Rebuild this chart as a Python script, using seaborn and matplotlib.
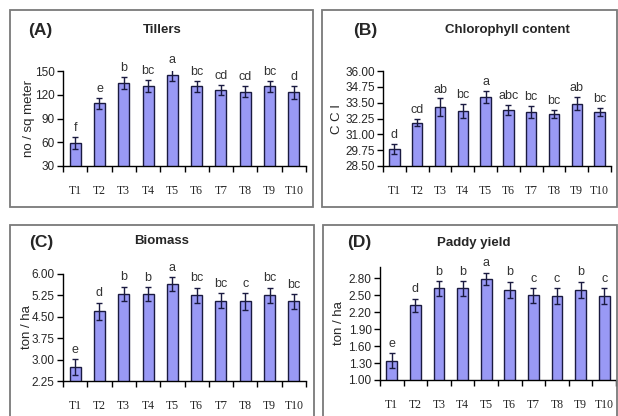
import matplotlib
matplotlib.use('Agg')
import matplotlib.pyplot as plt
import seaborn as sns
import pandas as pd
from matplotlib.patches import Rectangle

treatments = ['T1', 'T2', 'T3', 'T4', 'T5', 'T6', 'T7', 'T8', 'T9', 'T10']

tillers = [59, 109, 135, 131, 145, 131, 126, 124, 131, 123]
tillers_err = [8, 7, 8, 7.5, 8, 7, 6, 7, 7, 8]
tillers_grp = ['f', 'e', 'b', 'bc', 'a', 'bc', 'cd', 'cd', 'bc', 'd']

chloro = [29.84, 31.92, 33.13, 32.84, 33.95, 32.92, 32.76, 32.60, 33.42, 32.76]
chloro_err = [0.37, 0.29, 0.7, 0.58, 0.45, 0.37, 0.45, 0.34, 0.5, 0.32]
chloro_grp = ['d', 'cd', 'ab', 'bc', 'a', 'abc', 'bc', 'bc', 'ab', 'bc']

biomass = [2.74, 4.70, 5.30, 5.30, 5.65, 5.26, 5.07, 5.04, 5.26, 5.04]
biomass_err = [0.27, 0.3, 0.26, 0.23, 0.23, 0.26, 0.26, 0.3, 0.26, 0.26]
biomass_grp = ['e', 'd', 'b', 'b', 'a', 'bc', 'bc', 'c', 'bc', 'bc']

paddy = [1.34, 2.32, 2.62, 2.62, 2.79, 2.60, 2.50, 2.48, 2.60, 2.48]
paddy_err = [0.13, 0.12, 0.13, 0.13, 0.11, 0.14, 0.13, 0.14, 0.14, 0.14]
paddy_grp = ['e', 'd', 'b', 'b', 'a', 'b', 'c', 'c', 'b', 'c']

sns.set_style('white')
narrow = ['Liberation Sans Narrow', 'Liberation Sans', 'DejaVu Sans']
plt.rcParams['font.family'] = ['Liberation Sans', 'DejaVu Sans']

W, H = 618, 416
fig = plt.figure(figsize=(W / 100, H / 100), dpi=100)
fig.patch.set_facecolor('white')


def px_axes(left, top, right, bottom):
    return fig.add_axes([left / W, 1 - bottom / H, (right - left) / W, (bottom - top) / H])


def box(left, top, right, bottom):
    fig.patches.append(Rectangle((left / W, 1 - bottom / H), (right - left) / W, (bottom - top) / H,
                                 transform=fig.transFigure, fill=False, edgecolor='#7a7a7a', lw=1.3))


panels = [
    ('(A)', 'Tillers', 'no / sq meter', tillers, tillers_err, tillers_grp, (30, 150), [30, 60, 90, 120, 150], '%d',
     (63, 71, 306, 166), (10, 10, 313, 207), (40, 31), (162, 30), 35),
    ('(B)', 'Chlorophyll content', 'C C I', chloro, chloro_err, chloro_grp, (28.5, 36.0),
     [28.5, 29.75, 31.0, 32.25, 33.5, 34.75, 36.0], '%.2f',
     (383, 71, 611, 166), (322, 10, 617, 207), (365, 30), (507, 30), 343),
    ('(C)', 'Biomass', 'ton / ha', biomass, biomass_err, biomass_grp, (2.25, 6.0),
     [2.25, 3.0, 3.75, 4.5, 5.25, 6.0], '%.2f',
     (63, 274, 306, 381), (10, 225, 314, 417), (41, 243), (162, 241), 33),
    ('(D)', 'Paddy yield', 'ton / ha', paddy, paddy_err, paddy_grp, (1.0, 3.0),
     [1.0, 1.3, 1.6, 1.9, 2.2, 2.5, 2.8], '%.2f',
     (380, 267, 616, 380), (323, 225, 617, 417), (359, 243), (474, 243), 345),
]

for tag, title, ylab, vals, errs, grps, ylim, yticks, fmt, apos, bpos, tagpos, titlepos, ylx in panels:
    box(*bpos)
    ax = px_axes(*apos)
    df = pd.DataFrame({'trt': treatments, 'val': vals})
    sns.barplot(data=df, x='trt', y='val', color='#9999f5', saturation=1, width=0.45,
                edgecolor='#1a1a40', linewidth=1.0, errorbar=None, ax=ax)
    ax.errorbar(range(len(vals)), vals, yerr=errs, fmt='none', ecolor='#1a1a40',
                elinewidth=1.0, capsize=2.5, capthick=1.0)
    span = ylim[1] - ylim[0]
    for i, (v, e, g) in enumerate(zip(vals, errs, grps)):
        ax.text(i, v + e + span * 0.03, g, ha='center', va='bottom', fontsize=9,
                color='#333333', family=narrow)
    ax.set_ylim(*ylim)
    ax.set_xlim(-0.5, len(vals) - 0.5)
    ax.set_yticks(yticks)
    ax.set_yticklabels([fmt % t for t in yticks], family=narrow, fontsize=8.5)
    ax.set_xticks(range(len(vals)))
    ax.set_xticklabels(treatments, family=['Liberation Serif', 'DejaVu Serif'], fontsize=8.5)
    ax.tick_params(axis='x', length=0, pad=14)
    ax.set_xticks([i - 0.5 for i in range(len(vals) + 1)], minor=True)
    ax.tick_params(axis='x', which='minor', length=4, width=1, direction='out', color='black', bottom=True)
    ax.tick_params(axis='y', length=4, width=1, direction='out', color='black', left=True, pad=2)
    for s in ['top', 'right']:
        ax.spines[s].set_visible(False)
    for s in ['left', 'bottom']:
        ax.spines[s].set_color('black')
        ax.spines[s].set_linewidth(1)
    ax.set_xlabel('')
    ax.set_ylabel(ylab, family=narrow, fontsize=9.5)
    l, t, r, b = apos
    ax.yaxis.set_label_coords((ylx - l) / (r - l), 0.5)
    ax.set_facecolor('white')
    fig.text(tagpos[0] / W, 1 - tagpos[1] / H, tag, ha='center', va='center', fontsize=12.5, fontweight='bold')
    fig.text(titlepos[0] / W, 1 - titlepos[1] / H, title, ha='center', va='center', fontsize=9.5,
             fontweight='bold')

fig.savefig('out.png', dpi=100, facecolor='white')
